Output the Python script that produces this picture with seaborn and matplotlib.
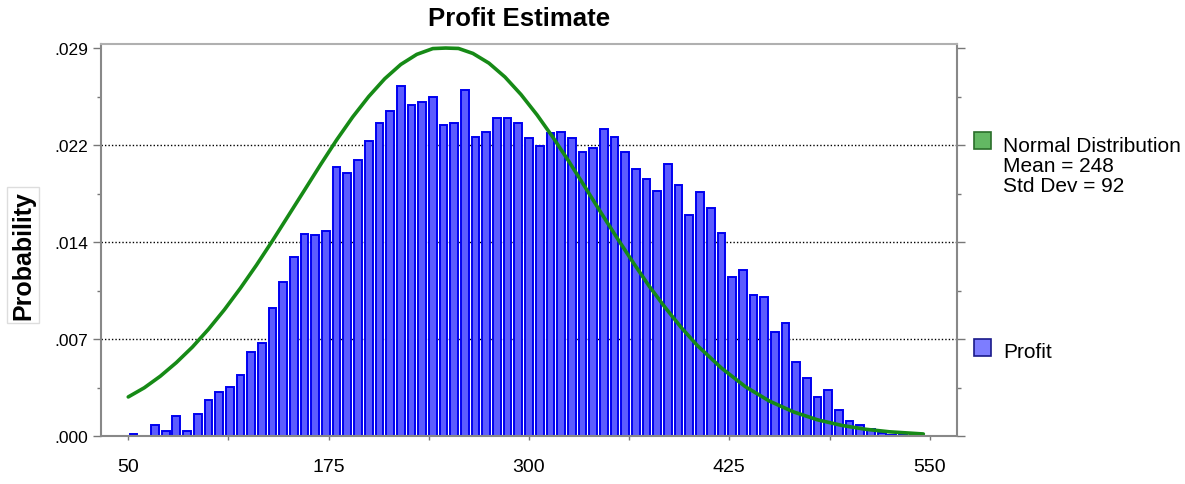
import numpy as np
import pandas as pd
import seaborn as sns
from matplotlib import pyplot as plt
from matplotlib.patches import Rectangle
from matplotlib.ticker import FixedLocator, FuncFormatter

# histogram: 75 bins between 50 and 550, probability per bin
bin_edges = np.linspace(50, 550, 76)
profit_prob = [
    0.00013, 0.0, 0.00082, 0.0004, 0.0015, 0.0004, 0.00166, 0.00265, 0.00325, 0.00365,
    0.0045, 0.0062, 0.0069, 0.0095, 0.0114, 0.0133, 0.0150, 0.0149, 0.0152, 0.0200,
    0.0195, 0.0205, 0.0219, 0.0232, 0.0241, 0.0260, 0.0246, 0.0248, 0.0252, 0.0231,
    0.0232, 0.0257, 0.0222, 0.0226, 0.0236, 0.0236, 0.0232, 0.0221, 0.0215, 0.0225,
    0.0226, 0.0221, 0.0211, 0.0214, 0.0228, 0.0222, 0.0211, 0.0198, 0.0191, 0.0182,
    0.0202, 0.0186, 0.0164, 0.0181, 0.0169, 0.0151, 0.0118, 0.0123, 0.0105, 0.0103,
    0.0077, 0.0084, 0.0055, 0.0043, 0.0029, 0.0034, 0.0019, 0.0011, 0.0008, 0.0005,
    0.00025, 0.0001, 0.00006, 0.00004, 0.00002,
]

# fitted normal curve (mean 248, sd 92)
normal_x = [50, 60, 70, 80, 90, 100, 110, 120, 130, 140, 150, 160, 170, 180, 190,
            200, 210, 220, 230, 240, 248, 256, 265, 275, 285, 295, 305, 315, 325,
            335, 345, 355, 365, 375, 385, 395, 405, 420, 435, 450, 465, 480, 495,
            510, 525, 546]
normal_y = [0.00290, 0.00358, 0.00444, 0.00545, 0.00660, 0.00792, 0.00938, 0.01098,
            0.01269, 0.01450, 0.01638, 0.01826, 0.02015, 0.02198, 0.02368, 0.02520,
            0.02652, 0.02758, 0.02833, 0.02876, 0.02880, 0.02877, 0.02840, 0.02768,
            0.02665, 0.02535, 0.02384, 0.02216, 0.02036, 0.01847, 0.01656, 0.01469,
            0.01287, 0.01112, 0.00953, 0.00805, 0.00672, 0.00505, 0.00366, 0.00259,
            0.00179, 0.00120, 0.00079, 0.00050, 0.00031, 0.00015]

y_ticks = [0.0, 0.0072, 0.0144, 0.0216, 0.0288]
x_ticks = [50, 175, 300, 425, 550]

sns.set_theme(style='white')
plt.rcParams['font.family'] = ['Liberation Sans', 'DejaVu Sans']
plt.rcParams['text.color'] = 'black'

W, H = 1185, 485
fig = plt.figure(figsize=(W / 100, H / 100), dpi=100)
ax = fig.add_axes([101 / W, 1 - 437 / H, (957 - 101) / W, (437 - 45) / H])

hist_df = pd.DataFrame({'profit': (bin_edges[:-1] + bin_edges[1:]) / 2, 'prob': profit_prob})
sns.histplot(data=hist_df, x='profit', weights='prob', bins=len(profit_prob),
             binrange=(bin_edges[0], bin_edges[-1]), shrink=0.72, ax=ax,
             color='#5c5cff', edgecolor='#0000f0', linewidth=1.4, alpha=1)
sns.lineplot(x=normal_x, y=normal_y, ax=ax, color='#168a16', linewidth=2.6)

ax.set_xlim(33, 567)
ax.set_ylim(0, 0.0291)

for t in y_ticks[1:-1]:
    ax.axhline(t, color='black', linestyle=(0, (1, 1.5)), linewidth=1, zorder=0.5)

ax.yaxis.set_major_locator(FixedLocator(y_ticks))
ax.yaxis.set_minor_locator(FixedLocator([(a + b) / 2 for a, b in zip(y_ticks[:-1], y_ticks[1:])]))
ax.yaxis.set_major_formatter(FuncFormatter(lambda v, p: f'{v:.3f}'.lstrip('0') if v > 0 else '.000'))
ax.xaxis.set_major_locator(FixedLocator(x_ticks))
ax.xaxis.set_minor_locator(FixedLocator([(a + b) / 2 for a, b in zip(x_ticks[:-1], x_ticks[1:])]))

ax.tick_params(axis='y', which='major', left=True, right=True, length=6, width=1,
               color='#777777', labelcolor='black', labelsize=12.5, pad=3)
ax.tick_params(axis='y', which='minor', left=True, right=True, length=3, width=1, color='#777777')
ax.tick_params(axis='x', which='both', bottom=True, length=3, width=1, color='#777777',
               labelcolor='black', labelsize=14, pad=13)
ax.set_xlabel('')
ax.set_ylabel('')

for s in ['left', 'right', 'bottom']:
    ax.spines[s].set_color('#888888')
    ax.spines[s].set_linewidth(1.5)
ax.spines['top'].set_color('#b0b0b0')
ax.spines['top'].set_linewidth(1.5)

fig.text(519 / W, 1 - 19 / H, 'Profit Estimate', ha='center', va='center',
         fontsize=18.5, fontweight='bold')
fig.text(23 / W, 1 - 256 / H, 'Probability', ha='center', va='center', rotation=90,
         fontsize=18, fontweight='bold',
         bbox=dict(facecolor='white', edgecolor='#dddddd', boxstyle='square,pad=0.15'))

# legend entries on the right
fig.patches.append(Rectangle((974 / W, 1 - 150 / H), 17 / W, 17 / H, transform=fig.transFigure,
                             facecolor='#63b863', edgecolor='#2a6e2a', linewidth=1.2))
fig.patches.append(Rectangle((974 / W, 1 - 357 / H), 17 / W, 17 / H, transform=fig.transFigure,
                             facecolor='#7d7dff', edgecolor='#1a1a8a', linewidth=1.2))
fig.text(1003 / W, 1 - 137 / H, 'Normal Distribution\nMean = 248\nStd Dev = 92',
         ha='left', va='top', fontsize=15, linespacing=1.06)
fig.text(1003 / W, 1 - 353 / H, 'Profit', ha='left', va='center', fontsize=15)

fig.savefig('out.png', dpi=100)
